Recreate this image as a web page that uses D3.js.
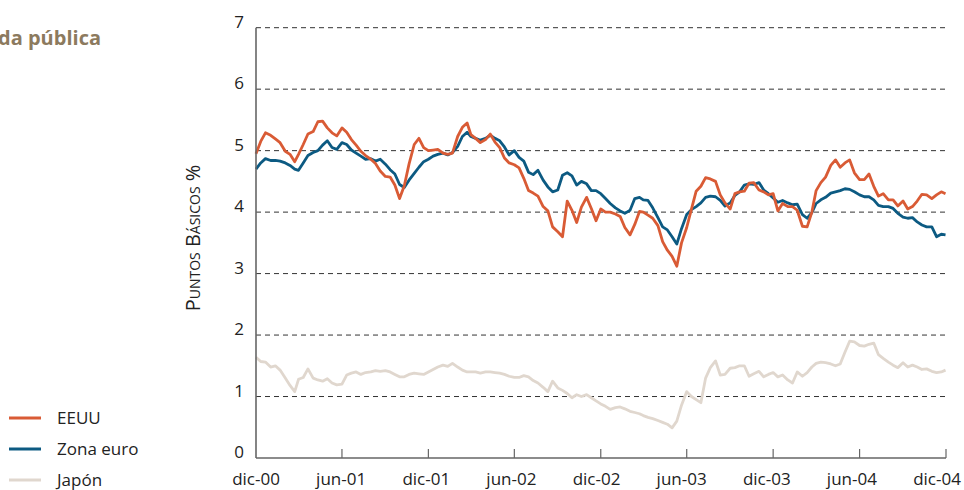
<!DOCTYPE html>
<html>
<head>
<meta charset="utf-8">
<script src="https://cdn.jsdelivr.net/npm/d3@7/dist/d3.min.js"></script>
<style>
  body { margin: 0; background: #fff; }
  svg text { font-family: "Open Sans", "Noto Sans", sans-serif; }
</style>
</head>
<body>
<script>
// Width and height
var w = 964;
var h = 490;

// fechas (cada 10 días aprox.)
var dates = [
  "2000-12-01","2000-12-11","2000-12-21","2001-01-01","2001-01-11","2001-01-21",
  "2001-02-01","2001-02-11","2001-02-21","2001-03-01","2001-03-11","2001-03-21",
  "2001-04-01","2001-04-11","2001-04-21","2001-05-01","2001-05-11","2001-05-21",
  "2001-06-01","2001-06-11","2001-06-21","2001-07-01","2001-07-11","2001-07-21",
  "2001-08-01","2001-08-11","2001-08-21","2001-09-01","2001-09-11","2001-09-21",
  "2001-10-01","2001-10-11","2001-10-21","2001-11-01","2001-11-11","2001-11-21",
  "2001-12-01","2001-12-11","2001-12-21","2002-01-01","2002-01-11","2002-01-21",
  "2002-02-01","2002-02-11","2002-02-21","2002-03-01","2002-03-11","2002-03-21",
  "2002-04-01","2002-04-11","2002-04-21","2002-05-01","2002-05-11","2002-05-21",
  "2002-06-01","2002-06-11","2002-06-21","2002-07-01","2002-07-11","2002-07-21",
  "2002-08-01","2002-08-11","2002-08-21","2002-09-01","2002-09-11","2002-09-21",
  "2002-10-01","2002-10-11","2002-10-21","2002-11-01","2002-11-11","2002-11-21",
  "2002-12-01","2002-12-11","2002-12-21","2003-01-01","2003-01-11","2003-01-21",
  "2003-02-01","2003-02-11","2003-02-21","2003-03-01","2003-03-11","2003-03-21",
  "2003-04-01","2003-04-11","2003-04-21","2003-05-01","2003-05-11","2003-05-21",
  "2003-06-01","2003-06-11","2003-06-21","2003-07-01","2003-07-11","2003-07-21",
  "2003-08-01","2003-08-11","2003-08-21","2003-09-01","2003-09-11","2003-09-21",
  "2003-10-01","2003-10-11","2003-10-21","2003-11-01","2003-11-11","2003-11-21",
  "2003-12-01","2003-12-11","2003-12-21","2004-01-01","2004-01-11","2004-01-21",
  "2004-02-01","2004-02-11","2004-02-21","2004-03-01","2004-03-11","2004-03-21",
  "2004-04-01","2004-04-11","2004-04-21","2004-05-01","2004-05-11","2004-05-21",
  "2004-06-01","2004-06-11","2004-06-21","2004-07-01","2004-07-11","2004-07-21",
  "2004-08-01","2004-08-11","2004-08-21","2004-09-01","2004-09-11","2004-09-21",
  "2004-10-01","2004-10-11","2004-10-21","2004-11-01","2004-11-11","2004-11-21",
  "2004-11-30"
];

var eeuu = [
  4.95,5.15,5.29, 5.25,5.19,5.13, 4.99,4.94,4.82, 4.94,5.10,5.27,
  5.31,5.47,5.48, 5.37,5.29,5.24, 5.37,5.30,5.18, 5.09,4.99,4.92,
  4.86,4.79,4.67, 4.58,4.57,4.44, 4.22,4.43,4.78, 5.10,5.20,5.05,
  5.00,5.01,5.02, 4.96,4.94,4.96, 5.23,5.38,5.45, 5.26,5.20,5.13,
  5.18,5.27,5.14, 5.05,4.88,4.80, 4.77,4.72,4.55, 4.35,4.31,4.26,
  4.09,4.02,3.76, 3.68,3.60,4.18, 4.03,3.83,4.08, 4.24,4.06,3.86,
  4.05,4.00,4.00, 3.97,3.93,3.75, 3.63,3.80,4.01, 4.00,3.95,3.90,
  3.78,3.52,3.38, 3.28,3.12,3.50, 3.75,4.05,4.34, 4.42,4.56,4.54,
  4.50,4.28,4.15, 4.05,4.30,4.33, 4.34,4.47,4.48, 4.36,4.33,4.28,
  4.30,4.02,4.14, 4.09,4.09,4.03, 3.77,3.76,4.00, 4.35,4.48,4.57,
  4.76,4.85,4.73, 4.80,4.85,4.64, 4.53,4.53,4.62, 4.42,4.26,4.30,
  4.20,4.20,4.10, 4.18,4.05,4.09, 4.18,4.29,4.28, 4.22,4.28,4.33,
  4.30
];

var zonaEuro = [
  4.70,4.80,4.87, 4.84,4.84,4.83, 4.80,4.76,4.70, 4.68,4.80,4.92,
  4.97,5.00,5.09, 5.16,5.05,5.02, 5.13,5.10,5.01, 4.96,4.91,4.86,
  4.87,4.83,4.86, 4.78,4.69,4.62, 4.45,4.40,4.52, 4.63,4.73,4.82,
  4.86,4.91,4.94, 4.96,4.93,4.97, 5.07,5.23,5.30, 5.23,5.20,5.17,
  5.20,5.25,5.20, 5.16,5.06,4.93, 5.00,4.89,4.83, 4.65,4.61,4.68,
  4.52,4.41,4.33, 4.36,4.60,4.64, 4.59,4.44,4.50, 4.46,4.35,4.35,
  4.30,4.22,4.14, 4.07,4.02,3.98, 4.03,4.22,4.24, 4.20,4.19,4.07,
  3.91,3.76,3.71, 3.60,3.48,3.73, 3.96,4.04,4.09, 4.15,4.24,4.26,
  4.25,4.19,4.10, 4.15,4.27,4.33, 4.44,4.46,4.45, 4.48,4.36,4.30,
  4.23,4.16,4.19, 4.15,4.12,4.13, 3.96,3.90,3.99, 4.14,4.20,4.24,
  4.31,4.33,4.35, 4.38,4.37,4.33, 4.28,4.25,4.25, 4.20,4.11,4.09,
  4.09,4.06,3.98, 3.92,3.90,3.91, 3.84,3.79,3.76, 3.76,3.60,3.64,
  3.63
];

var japon = [
  1.64,1.57,1.56, 1.48,1.50,1.43, 1.30,1.18,1.08, 1.28,1.31,1.45,
  1.30,1.27,1.25, 1.29,1.22,1.19, 1.20,1.35,1.38, 1.40,1.36,1.39,
  1.40,1.42,1.41, 1.42,1.40,1.36, 1.32,1.32,1.36, 1.38,1.37,1.36,
  1.40,1.44,1.48, 1.51,1.49,1.54, 1.48,1.43,1.40, 1.40,1.40,1.38,
  1.40,1.40,1.39, 1.38,1.36,1.33, 1.31,1.31,1.34, 1.32,1.26,1.22,
  1.15,1.08,1.25, 1.14,1.10,1.05, 0.98,1.03,1.00, 1.03,0.98,0.93,
  0.88,0.84,0.79, 0.82,0.83,0.80, 0.76,0.74,0.72, 0.69,0.66,0.64,
  0.61,0.58,0.55, 0.49,0.60,0.86, 1.08,1.00,0.95, 0.90,1.30,1.47,
  1.58,1.35,1.36, 1.46,1.47,1.50, 1.50,1.33,1.37, 1.41,1.32,1.36,
  1.39,1.32,1.35, 1.27,1.22,1.40, 1.33,1.39,1.48, 1.54,1.56,1.55,
  1.53,1.50,1.53, 1.72,1.90,1.89, 1.83,1.82,1.85, 1.87,1.68,1.62,
  1.56,1.51,1.47, 1.55,1.48,1.51, 1.48,1.44,1.45, 1.41,1.39,1.40,
  1.43
];

var tickDates = ["2000-12-01","2001-06-01","2001-12-01","2002-06-01","2002-12-01",
                 "2003-06-01","2003-12-01","2004-06-01","2004-12-01"];
var tickLabels = ["dic-00","jun-01","dic-01","jun-02","dic-02","jun-03","dic-03","jun-04","dic-04"];
var yTicks = [0, 1, 2, 3, 4, 5, 6, 7];

var seriesNames = ["EEUU", "Zona euro", "Japón"];
var colors = ["#d95b35", "#0c5a82", "#e0d7ce"];

var parse = d3.utcParse("%Y-%m-%d");

var plotLeft = 256, plotRight = 946, plotTop = 27.7, plotBottom = 458;

var xScale = d3.scaleUtc()
    .domain([parse("2000-12-01"), parse("2004-12-01")])
    .range([plotLeft, plotRight]);

var yScale = d3.scaleLinear()
    .domain([0, 7])
    .range([plotBottom, plotTop]);

// labels sit slightly left of their ticks towards the right end
var labelScale = d3.scalePoint()
    .domain(tickLabels)
    .range([256, 937]);

//Create SVG element
var svg = d3.select("body")
    .append("svg")
    .attr("width", w)
    .attr("height", h);

// title (cut at the left edge)
svg.append("text")
    .attr("x", 101)
    .attr("y", 45)
    .attr("text-anchor", "end")
    .attr("font-size", "20px")
    .attr("font-weight", "bold")
    .attr("fill", "#8c7a5e")
    .text("Deuda pública");

// gridlines
svg.selectAll("line.grid")
    .data(yTicks.slice(1))
    .enter()
    .append("line")
    .attr("class", "grid")
    .attr("x1", plotLeft)
    .attr("x2", plotRight)
    .attr("y1", d => yScale(d))
    .attr("y2", d => yScale(d))
    .attr("stroke", "#333")
    .attr("stroke-width", 1)
    .attr("stroke-dasharray", "5,4");

// y labels
svg.selectAll("text.ylab")
    .data(yTicks)
    .enter()
    .append("text")
    .attr("class", "ylab")
    .attr("x", 244)
    .attr("y", d => yScale(d))
    .attr("text-anchor", "end")
    .attr("font-size", "17px")
    .attr("fill", "#222")
    .text(d => d);

// y title
svg.append("text")
    .attr("transform", "translate(200,238) rotate(-90)")
    .attr("text-anchor", "middle")
    .attr("font-size", "20px")
    .attr("fill", "#222")
    .style("font-variant", "small-caps")
    .text("Puntos Básicos %");

// lines
var line = d3.line()
    .x((d, i) => xScale(parse(dates[i])))
    .y(d => yScale(d));

[japon, zonaEuro, eeuu].forEach(function(vals, k) {
    var c = [colors[2], colors[1], colors[0]][k];
    svg.append("path")
        .datum(vals)
        .attr("d", line)
        .attr("fill", "none")
        .attr("stroke", c)
        .attr("stroke-width", 2.8)
        .attr("stroke-linejoin", "round");
});

// axes
svg.append("line")
    .attr("x1", plotLeft).attr("x2", plotLeft)
    .attr("y1", plotTop).attr("y2", plotBottom)
    .attr("stroke", "#666").attr("stroke-width", 1.6);
svg.append("line")
    .attr("x1", plotLeft).attr("x2", plotRight)
    .attr("y1", plotBottom).attr("y2", plotBottom)
    .attr("stroke", "#666").attr("stroke-width", 1.6);

svg.selectAll("line.xtick")
    .data(tickDates.slice(1))
    .enter()
    .append("line")
    .attr("class", "xtick")
    .attr("x1", d => xScale(parse(d)))
    .attr("x2", d => xScale(parse(d)))
    .attr("y1", plotBottom)
    .attr("y2", plotBottom - 9)
    .attr("stroke", "#666")
    .attr("stroke-width", 1.2);

svg.selectAll("text.xlab")
    .data(tickLabels)
    .enter()
    .append("text")
    .attr("class", "xlab")
    .attr("x", d => labelScale(d))
    .attr("y", 485)
    .attr("text-anchor", "middle")
    .attr("font-size", "17px")
    .attr("fill", "#222")
    .text(d => d);

// legend
var legend = svg.selectAll("g.legend")
    .data(seriesNames)
    .enter()
    .append("g")
    .attr("class", "legend")
    .attr("transform", (d, i) => "translate(0," + (418 + i * 31) + ")");

legend.append("line")
    .attr("x1", 9).attr("x2", 41)
    .attr("stroke", (d, i) => colors[i])
    .attr("stroke-width", 3);

legend.append("text")
    .attr("x", 57)
    .attr("y", 6)
    .attr("font-size", "17px")
    .attr("fill", "#222")
    .text(d => d);
</script>
</body>
</html>
